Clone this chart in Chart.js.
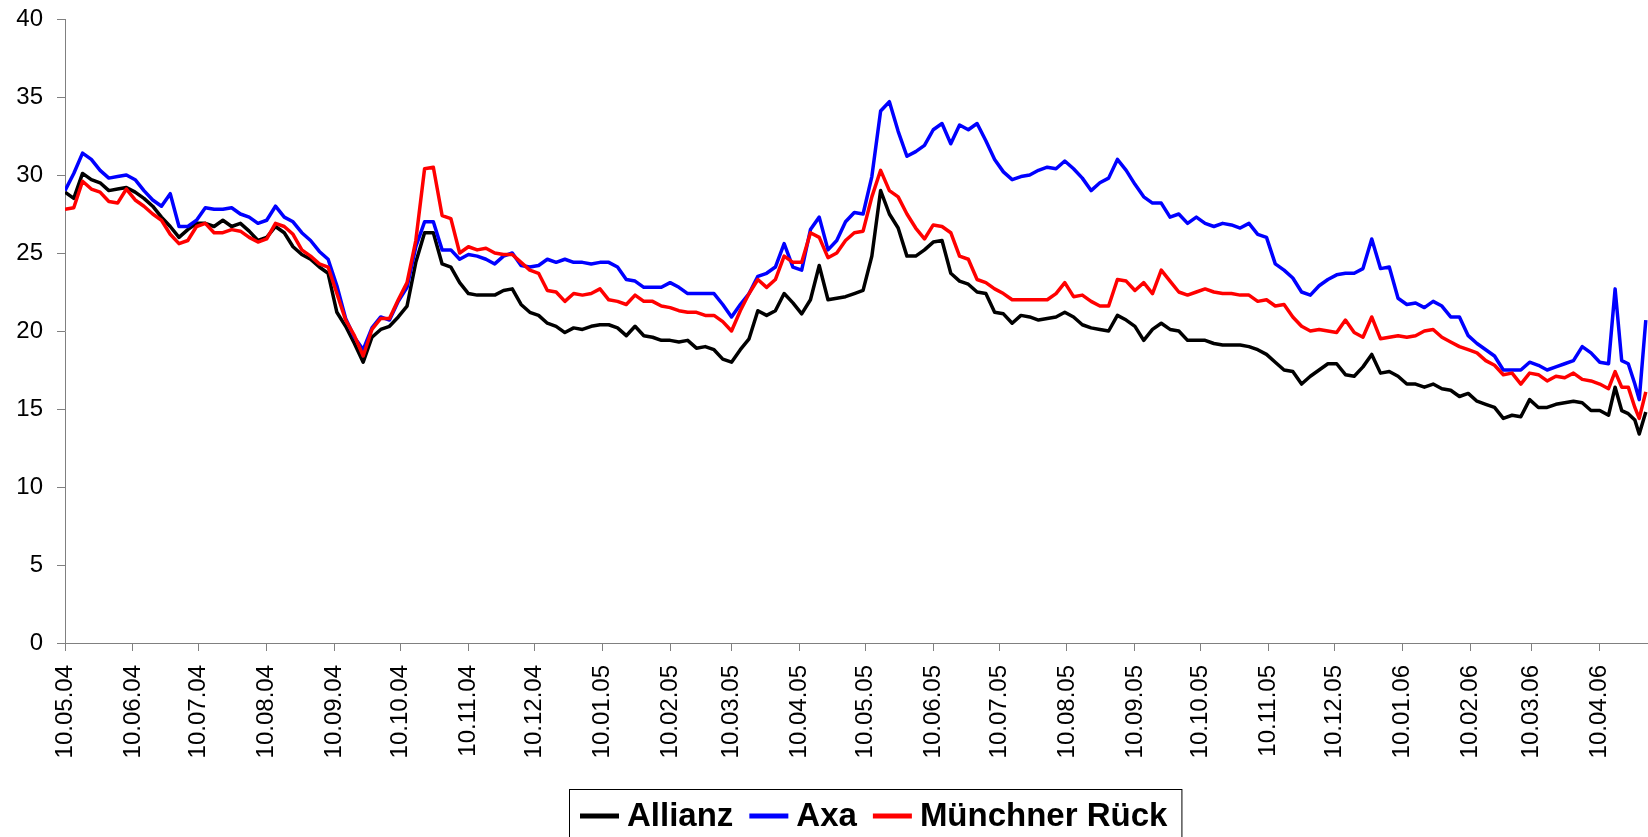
<!DOCTYPE html>
<html>
<head>
<meta charset="utf-8">
<script src="https://cdn.jsdelivr.net/npm/chart.js@4"></script>
<style>
  html, body { margin: 0; padding: 0; background: #ffffff; }
  #wrap { width: 1648px; height: 837px; }
</style>
</head>
<body>
<div id="wrap"><canvas id="chart" width="1648" height="837"></canvas></div>
<script>
// days counted from 10.05.04
const days = [
  0, 4, 8, 12, 16, 20, 24, 28, 32, 36,
  40, 44, 48, 52, 56, 60, 64, 68, 72, 76,
  80, 84, 88, 92, 96, 100, 104, 108, 112, 116,
  120, 124, 128, 132, 136, 140, 144, 148, 152, 156,
  160, 164, 168, 172, 176, 180, 184, 188, 192, 196,
  200, 204, 208, 212, 216, 220, 224, 228, 232, 236,
  240, 244, 248, 252, 256, 260, 264, 268, 272, 276,
  280, 284, 288, 292, 296, 300, 304, 308, 312, 316,
  320, 324, 328, 332, 336, 340, 344, 348, 352, 356,
  360, 364, 368, 372, 376, 380, 384, 388, 392, 396,
  400, 404, 408, 412, 416, 420, 424, 428, 432, 436,
  440, 444, 448, 452, 456, 460, 464, 468, 472, 476,
  480, 484, 488, 492, 496, 500, 504, 508, 512, 516,
  520, 524, 528, 532, 536, 540, 544, 548, 552, 556,
  560, 564, 568, 572, 576, 580, 584, 588, 592, 596,
  600, 604, 608, 612, 616, 620, 624, 628, 632, 636,
  640, 644, 648, 652, 656, 660, 664, 668, 672, 676,
  680, 684, 688, 692, 696, 700, 704,
  707, 710, 713, 716, 718, 721
];

const allianz = [
  28.9, 28.5, 30.1, 29.7, 29.5, 29.0, 29.1, 29.2, 28.9, 28.5,
  28.0, 27.3, 26.7, 26.0, 26.5, 26.9, 26.9, 26.7, 27.1, 26.7,
  26.9, 26.4, 25.8, 26.0, 26.7, 26.3, 25.4, 24.9, 24.6, 24.1,
  23.7, 21.2, 20.3, 19.2, 18.0, 19.6, 20.1, 20.3, 20.9, 21.6,
  24.4, 26.3, 26.3, 24.3, 24.1, 23.1, 22.4, 22.3, 22.3, 22.3,
  22.6, 22.7, 21.7, 21.2, 21.0, 20.5, 20.3, 19.9, 20.2, 20.1,
  20.3, 20.4, 20.4, 20.2, 19.7, 20.3, 19.7, 19.6, 19.4, 19.4,
  19.3, 19.4, 18.9, 19.0, 18.8, 18.2, 18.0, 18.8, 19.5, 21.3,
  21.0, 21.3, 22.4, 21.8, 21.1, 22.0, 24.2, 22.0, 22.1, 22.2,
  22.4, 22.6, 24.8, 29.0, 27.5, 26.6, 24.8, 24.8, 25.2, 25.7,
  25.8, 23.7, 23.2, 23.0, 22.5, 22.4, 21.2, 21.1, 20.5, 21.0,
  20.9, 20.7, 20.8, 20.9, 21.2, 20.9, 20.4, 20.2, 20.1, 20.0,
  21.0, 20.7, 20.3, 19.4, 20.1, 20.5, 20.1, 20.0, 19.4, 19.4,
  19.4, 19.2, 19.1, 19.1, 19.1, 19.0, 18.8, 18.5, 18.0, 17.5,
  17.4, 16.6, 17.1, 17.5, 17.9, 17.9, 17.2, 17.1, 17.7, 18.5,
  17.3, 17.4, 17.1, 16.6, 16.6, 16.4, 16.6, 16.3, 16.2, 15.8,
  16.0, 15.5, 15.3, 15.1, 14.4, 14.6, 14.5, 15.6, 15.1, 15.1,
  15.3, 15.4, 15.5, 15.4, 14.9, 14.9, 14.6,
  16.4, 14.9, 14.7, 14.3, 13.4, 14.8
];

const axa = [
  29.0, 30.1, 31.4, 31.0, 30.3, 29.8, 29.9, 30.0, 29.7, 29.0,
  28.4, 28.0, 28.8, 26.7, 26.7, 27.1, 27.9, 27.8, 27.8, 27.9,
  27.5, 27.3, 26.9, 27.1, 28.0, 27.3, 27.0, 26.3, 25.8, 25.1,
  24.6, 22.9, 20.8, 19.6, 18.8, 20.2, 20.9, 20.7, 21.9, 22.8,
  25.4, 27.0, 27.0, 25.2, 25.2, 24.6, 24.9, 24.8, 24.6, 24.3,
  24.8, 25.0, 24.2, 24.1, 24.2, 24.6, 24.4, 24.6, 24.4, 24.4,
  24.3, 24.4, 24.4, 24.1, 23.3, 23.2, 22.8, 22.8, 22.8, 23.1,
  22.8, 22.4, 22.4, 22.4, 22.4, 21.7, 20.9, 21.7, 22.4, 23.5,
  23.7, 24.1, 25.6, 24.1, 23.9, 26.5, 27.3, 25.2, 25.8, 27.0,
  27.6, 27.5, 29.9, 34.1, 34.7, 32.8, 31.2, 31.5, 31.9, 32.9,
  33.3, 32.0, 33.2, 32.9, 33.3, 32.2, 31.0, 30.2, 29.7, 29.9,
  30.0, 30.3, 30.5, 30.4, 30.9, 30.4, 29.8, 29.0, 29.5, 29.8,
  31.0, 30.3, 29.4, 28.6, 28.2, 28.2, 27.3, 27.5, 26.9, 27.3,
  26.9, 26.7, 26.9, 26.8, 26.6, 26.9, 26.2, 26.0, 24.3, 23.9,
  23.4, 22.5, 22.3, 22.9, 23.3, 23.6, 23.7, 23.7, 24.0, 25.9,
  24.0, 24.1, 22.1, 21.7, 21.8, 21.5, 21.9, 21.6, 20.9, 20.9,
  19.7, 19.2, 18.8, 18.4, 17.5, 17.5, 17.5, 18.0, 17.8, 17.5,
  17.7, 17.9, 18.1, 19.0, 18.6, 18.0, 17.9,
  22.7, 18.1, 17.9, 16.6, 15.6, 20.7
];

const muenchnerRueck = [
  27.8, 27.9, 29.6, 29.1, 28.9, 28.3, 28.2, 29.1, 28.4, 28.0,
  27.5, 27.1, 26.2, 25.6, 25.8, 26.7, 26.9, 26.3, 26.3, 26.5,
  26.4, 26.0, 25.7, 25.9, 26.9, 26.7, 26.2, 25.2, 24.8, 24.3,
  24.1, 22.4, 20.7, 19.7, 18.4, 20.1, 20.8, 20.8, 22.0, 23.1,
  25.8, 30.4, 30.5, 27.4, 27.2, 25.0, 25.4, 25.2, 25.3, 25.0,
  24.9, 24.9, 24.4, 23.9, 23.7, 22.6, 22.5, 21.9, 22.4, 22.3,
  22.4, 22.7, 22.0, 21.9, 21.7, 22.3, 21.9, 21.9, 21.6, 21.5,
  21.3, 21.2, 21.2, 21.0, 21.0, 20.6, 20.0, 21.3, 22.4, 23.3,
  22.8, 23.3, 24.8, 24.4, 24.4, 26.3, 26.0, 24.7, 25.0, 25.8,
  26.3, 26.4, 28.6, 30.3, 29.0, 28.6, 27.5, 26.6, 25.9, 26.8,
  26.7, 26.3, 24.8, 24.6, 23.3, 23.1, 22.7, 22.4, 22.0, 22.0,
  22.0, 22.0, 22.0, 22.4, 23.1, 22.2, 22.3, 21.9, 21.6, 21.6,
  23.3, 23.2, 22.6, 23.1, 22.4, 23.9, 23.2, 22.5, 22.3, 22.5,
  22.7, 22.5, 22.4, 22.4, 22.3, 22.3, 21.9, 22.0, 21.6, 21.7,
  20.9, 20.3, 20.0, 20.1, 20.0, 19.9, 20.7, 19.9, 19.6, 20.9,
  19.5, 19.6, 19.7, 19.6, 19.7, 20.0, 20.1, 19.6, 19.3, 19.0,
  18.8, 18.6, 18.1, 17.8, 17.2, 17.3, 16.6, 17.3, 17.2, 16.8,
  17.1, 17.0, 17.3, 16.9, 16.8, 16.6, 16.3,
  17.4, 16.4, 16.4, 15.1, 14.4, 16.1
];

// monthly ticks on the date axis
const tickDays = [0, 31, 61, 92, 123, 153, 184, 214, 245, 276, 304, 335,
  365, 396, 426, 457, 488, 518, 549, 579, 610, 641, 669, 700];
const tickLabels = ['10.05.04', '10.06.04', '10.07.04', '10.08.04', '10.09.04',
  '10.10.04', '10.11.04', '10.12.04', '10.01.05', '10.02.05', '10.03.05',
  '10.04.05', '10.05.05', '10.06.05', '10.07.05', '10.08.05', '10.09.05',
  '10.10.05', '10.11.05', '10.12.05', '10.01.06', '10.02.06', '10.03.06',
  '10.04.06'];

const FONT = '"Liberation Sans", Arial, sans-serif';

function toPoints(values) {
  return days.map((d, i) => ({ x: d, y: values[i] }));
}

// boxed legend below the axis labels, like the spreadsheet one
const legendBox = {
  id: 'legendBox',
  afterDraw(chart) {
    const ctx = chart.ctx;
    const y = 816;
    let x = 580;
    ctx.save();
    ctx.font = 'bold 33px ' + FONT;
    ctx.textBaseline = 'middle';
    ctx.textAlign = 'left';
    chart.data.datasets.forEach(ds => {
      ctx.strokeStyle = ds.borderColor;
      ctx.lineWidth = 5;
      ctx.beginPath();
      ctx.moveTo(x, y);
      ctx.lineTo(x + 39, y);
      ctx.stroke();
      ctx.fillStyle = '#000000';
      ctx.fillText(ds.label, x + 47, y + 1);
      x += 47 + ctx.measureText(ds.label).width + 16;
    });
    ctx.strokeStyle = '#000000';
    ctx.lineWidth = 1;
    ctx.strokeRect(569.5, 789.5, x - 2 - 569, 70);
    ctx.restore();
  }
};

new Chart(document.getElementById('chart').getContext('2d'), {
  type: 'line',
  plugins: [legendBox],
  data: {
    datasets: [
      { label: 'Allianz', data: toPoints(allianz), borderColor: '#000000', order: 3 },
      { label: 'Axa', data: toPoints(axa), borderColor: '#0000ff', order: 2 },
      { label: 'Münchner Rück', data: toPoints(muenchnerRueck), borderColor: '#ff0000', order: 1 }
    ]
  },
  options: {
    responsive: false,
    animation: false,
    devicePixelRatio: 1,
    layout: { padding: { top: 19, right: 0, bottom: 64, left: 0 } },
    elements: {
      point: { radius: 0 },
      line: { borderWidth: 3.5, tension: 0, borderJoinStyle: 'round', fill: false }
    },
    scales: {
      x: {
        type: 'linear',
        min: 0,
        max: 722,
        afterFit: s => { s.height = 130; },
        afterBuildTicks: s => { s.ticks = tickDays.map(v => ({ value: v })); },
        grid: { drawOnChartArea: false, tickLength: 8, color: '#808080' },
        border: { color: '#808080', width: 1 },
        ticks: {
          autoSkip: false,
          minRotation: 90,
          maxRotation: 90,
          padding: 14,
          color: '#000000',
          font: { family: FONT, size: 24 },
          callback: (value, index) => tickLabels[index]
        }
      },
      y: {
        min: 0,
        max: 40,
        afterFit: s => {
          s.width = 65;
          // let the layout padding alone decide where the plot top sits
          s.paddingTop = 0;
          s.paddingBottom = 0;
        },
        grid: { drawOnChartArea: false, tickLength: 8, color: '#808080' },
        border: { color: '#808080', width: 1 },
        ticks: {
          stepSize: 5,
          padding: 14,
          color: '#000000',
          font: { family: FONT, size: 24 }
        }
      }
    },
    plugins: {
      legend: { display: false },
      tooltip: { enabled: false }
    }
  }
});
</script>
</body>
</html>
